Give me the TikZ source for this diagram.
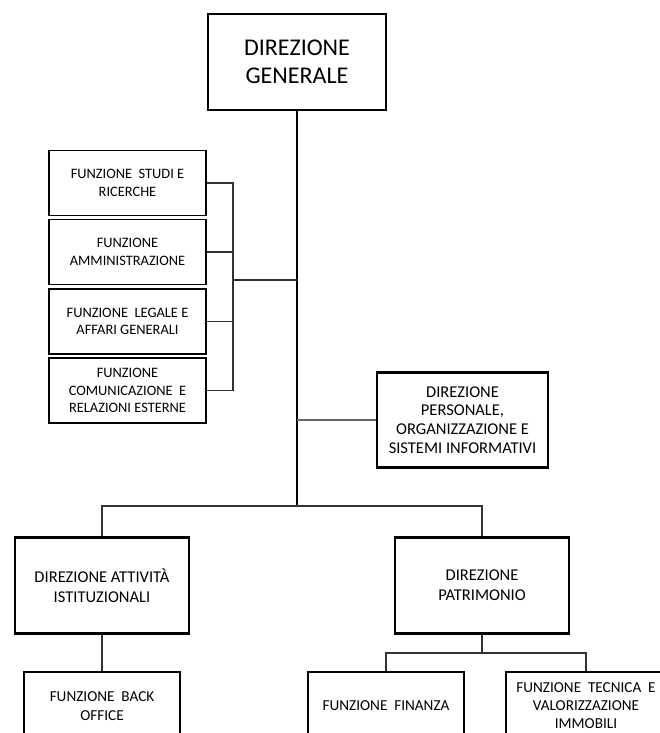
\documentclass[tikz,border=0pt]{standalone}
\usepackage{fontspec}
\setmainfont{Carlito}
\usetikzlibrary{positioning}

\begin{document}
\begin{tikzpicture}[x=1pt, y=-1pt,
  unit/.style={draw, line width=1.1pt, minimum width=#1, minimum height=65pt,
               align=center, inner sep=0pt, font=\fontsize{14.4}{17.5}\selectfont},
  dir/.style={draw, line width=2.4pt, minimum width=#1, minimum height=96pt,
              align=center, inner sep=0pt, font=\fontsize{16.5}{20}\selectfont},
  link/.style={draw=black!80, line width=1.1pt}]

  \useasboundingbox (0,0) rectangle (660,733);
  \clip (0,0) rectangle (660,733);

  \node[dir=178pt, font=\fontsize{24}{28}\selectfont] (dg) at (297, 62) {DIREZIONE\\GENERALE};

  \node[unit=157pt] (studi) at (127.5, 183)   {FUNZIONE\ \ STUDI E\\RICERCHE};
  \node[unit=157pt] (amm)   at (127.5, 252)   {FUNZIONE\\AMMINISTRAZIONE};
  \node[unit=157pt] (leg)   at (127.5, 321.5) {FUNZIONE\ \ LEGALE E\\AFFARI GENERALI};
  \node[unit=157pt] (com)   at (127.5, 390.5) {FUNZIONE\\COMUNICAZIONE\ \ E\\RELAZIONI ESTERNE};

  \node[dir=171pt, minimum height=95pt, font=\fontsize{16.5}{18.7}\selectfont] (pers) at (462.5, 420)
       {DIREZIONE\\PERSONALE,\\ORGANIZZAZIONE E\\SISTEMI INFORMATIVI};

  \node[dir=174pt] (att) at (102, 585.5) {DIREZIONE ATTIVITÀ\\ISTITUZIONALI};
  \node[dir=174pt] (pat) at (482, 585.5) {DIREZIONE\\PATRIMONIO};

  \node[unit=156pt, minimum height=68pt, font=\fontsize{15.2}{18.5}\selectfont] (back) at (102, 706) {FUNZIONE\ \ BACK\\OFFICE};
  \node[unit=156pt, minimum height=68pt, font=\fontsize{15.2}{18.5}\selectfont] (fin)  at (386, 706) {FUNZIONE\ \ FINANZA};
  \node[unit=160pt, minimum height=68pt, font=\fontsize{15.2}{18}\selectfont] (tec)  at (586, 706) {FUNZIONE\ \ TECNICA\ \ E\\VALORIZZAZIONE\\IMMOBILI};

  \coordinate (bus) at (297, 506);
  \coordinate (brk) at (233, 280);
  \coordinate (sub) at (482, 653);

  % main line
  \draw[line width=1.4pt] (dg.south) -- (bus);
  \draw[link] (att.north) |- (bus) -| (pat.north);

  % staff functions
  \draw[link] (studi.east) -| (brk) |- (com.east);
  \draw[link] (amm.east) -- (amm.east -| brk);
  \draw[link] (leg.east) -- (leg.east -| brk);
  \draw[link] (brk) -- (brk -| dg.south);
  \draw[link, draw=black!60] (pers.west) -- (pers.west -| dg.south);

  % lower level
  \draw[link] (att.south) -- (back.north);
  \draw[link, line width=1.5pt] (pat.south) -- (sub);
  \draw[link] (fin.north) |- (sub) -| (tec.north);
\end{tikzpicture}
\end{document}
